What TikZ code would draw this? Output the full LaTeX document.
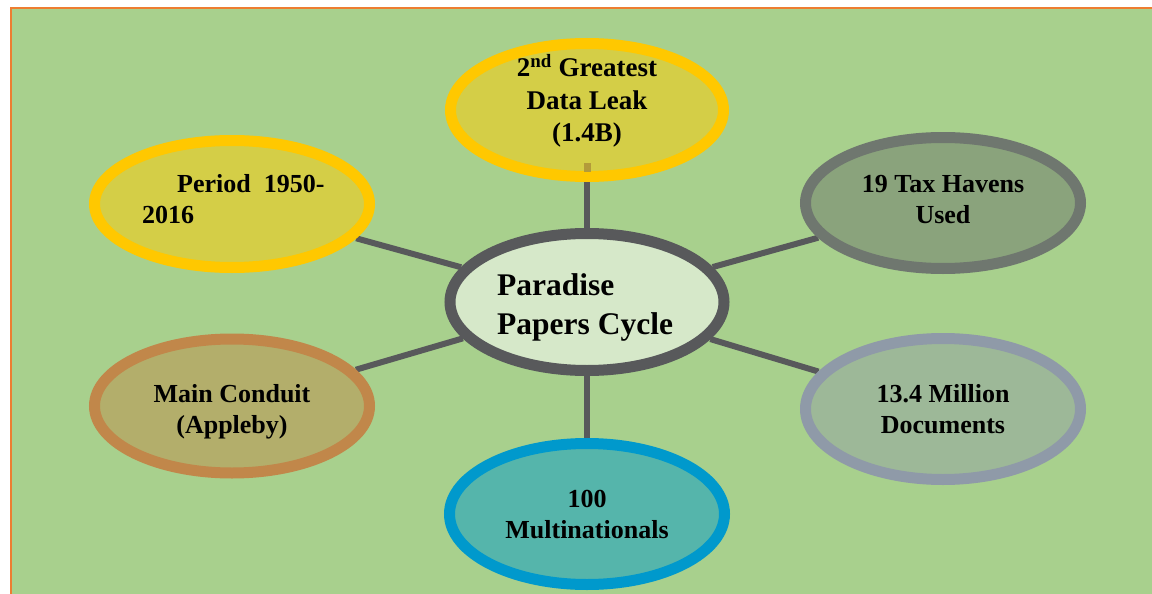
\documentclass[tikz,border=0pt]{standalone}
\usepackage{fontspec}
\setmainfont{Liberation Serif}
\usetikzlibrary{shapes.geometric}
\pgfdeclarelayer{bg}
\pgfdeclarelayer{edges}
\pgfsetlayers{bg,edges,main}
\definecolor{bggreen}{HTML}{A8D08D}
\definecolor{frameorange}{HTML}{ED7D31}
\definecolor{yelfill}{HTML}{D4CE47}
\definecolor{yelline}{HTML}{FFC800}
\definecolor{taxfill}{HTML}{8AA37C}
\definecolor{taxline}{HTML}{6F776F}
\definecolor{cenfill}{HTML}{D6E8C9}
\definecolor{cenline}{HTML}{58595B}
\definecolor{mainfill}{HTML}{B3AE6B}
\definecolor{mainline}{HTML}{C1874A}
\definecolor{docfill}{HTML}{9DB898}
\definecolor{docline}{HTML}{8F9AA8}
\definecolor{mulfill}{HTML}{55B5AB}
\definecolor{mulline}{HTML}{0099CC}
\definecolor{linkgray}{HTML}{58595B}
\definecolor{stubc}{HTML}{B39B3A}
\begin{document}
\begin{tikzpicture}[x=1pt,y=-1pt,
  bubble/.style={ellipse, line width=11pt, inner sep=0pt},
  link/.style={draw=linkgray, line width=6pt},
  lbl/.style={inner sep=0pt, text=black, font=\bfseries\fontsize{26pt}{31pt}\selectfont}]
\useasboundingbox (0,0) rectangle (1152,594);
\clip (0,0) rectangle (1152,594);
\begin{pgfonlayer}{bg}
  \fill[white] (0,0) rectangle (1152,594);
  \draw[draw=frameorange, fill=bggreen, line width=2.5pt] (11,8) rectangle (1175,620);
\end{pgfonlayer}
% ellipses
\node[bubble, draw=yelline, fill=yelfill, minimum width=273pt, minimum height=133pt] (top) at (587,110) {};
\node[bubble, draw=yelline, fill=yelfill, minimum width=275pt, minimum height=127pt] (period) at (232,204) {};
\node[bubble, draw=taxline, fill=taxfill, minimum width=275pt, minimum height=131pt] (tax) at (943,203) {};
\node[bubble, draw=cenline, fill=cenfill, minimum width=274pt, minimum height=137pt] (center) at (587,302) {};
\node[bubble, draw=mainline, fill=mainfill, minimum width=275pt, minimum height=134pt] (conduit) at (232,406) {};
\node[bubble, draw=docline, fill=docfill, minimum width=275pt, minimum height=141pt] (docs) at (943,409) {};
\node[bubble, draw=mulline, fill=mulfill, minimum width=275pt, minimum height=141pt] (multi) at (587,514) {};
\fill[stubc] (584,163) rectangle (591,172);
% connectors
\begin{pgfonlayer}{edges}
  \draw[link] (center) -- (top);
  \draw[link] (center) -- (period);
  \draw[link] (center) -- (tax);
  \draw[link] (center) -- (conduit);
  \draw[link] (center) -- (docs);
  \draw[link] (center) -- (multi);
\end{pgfonlayer}
% labels
\node[lbl, font=\bfseries\fontsize{27pt}{32.5pt}\selectfont, anchor=base] (ttop) at (587,77)
  {\begin{tabular}[t]{@{}c@{}}2\textsuperscript{nd} Greatest\\Data Leak\\(1.4B)\end{tabular}};
\node[lbl, anchor=base west] (tperiod) at (142,192)
  {\begin{tabular}[t]{@{}l@{}}\hspace*{35pt}Period\hspace{13pt}1950-\\2016\end{tabular}};
\node[lbl, anchor=base] (ttax) at (943,192)
  {\begin{tabular}[t]{@{}c@{}}19 Tax Havens\\Used\end{tabular}};
\node[lbl, font=\bfseries\fontsize{31.5pt}{39pt}\selectfont, anchor=base west] (tcenter) at (497,295)
  {\begin{tabular}[t]{@{}l@{}}Paradise\\Papers Cycle\end{tabular}};
\node[lbl, anchor=base] (tconduit) at (232,402)
  {\begin{tabular}[t]{@{}c@{}}Main Conduit\\(Appleby)\end{tabular}};
\node[lbl, anchor=base] (tdocs) at (943,402)
  {\begin{tabular}[t]{@{}c@{}}13.4 Million\\Documents\end{tabular}};
\node[lbl, anchor=base] (tmulti) at (587,507)
  {\begin{tabular}[t]{@{}c@{}}100\\Multinationals\end{tabular}};
\end{tikzpicture}
\end{document}
